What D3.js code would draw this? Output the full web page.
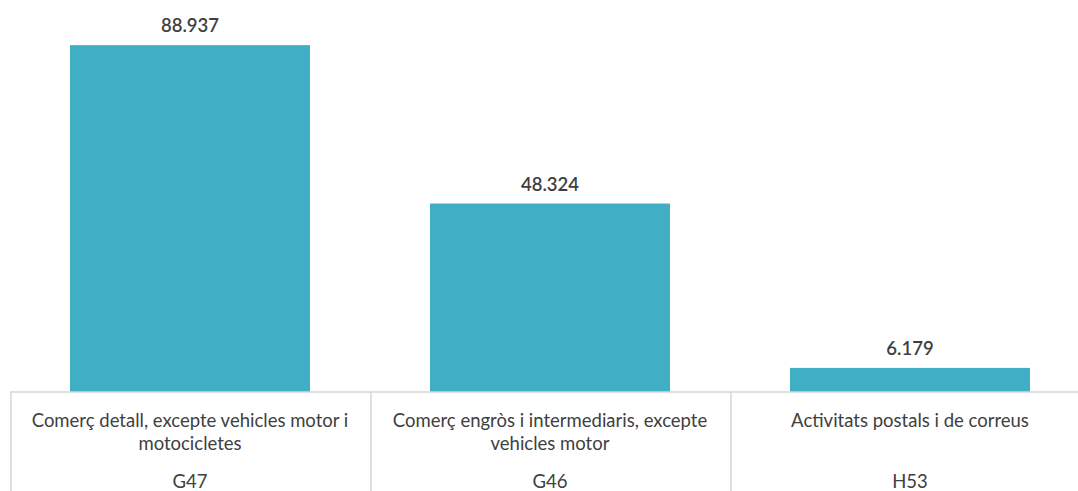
<!DOCTYPE html>
<html><head><meta charset="utf-8">
<script src="https://cdn.jsdelivr.net/npm/d3@7"></script>
<style>body{margin:0;background:#fff}svg{display:block}</style>
</head><body><svg id="c" width="1078" height="491"></svg>
<script>
const categories = ["Comerç detall, excepte vehicles motor i motocicletes", "Comerç engròs i intermediaris, excepte vehicles motor", "Activitats postals i de correus"];
const codes = ["G47", "G46", "H53"];
const values = [88.937, 48.324, 6.179];
const valueLabels = ["88.937", "48.324", "6.179"];

const svg = d3.select("#c");
const font = "Lato, 'Open Sans', sans-serif";
const x = d3.scaleBand().domain(categories).range([10, 1090]).paddingInner(1/3).paddingOuter(1/6);
const y = d3.scaleLinear().domain([0, 100]).range([392, 2]);
const step = x.step();

svg.selectAll("rect.bar").data(categories).join("rect")
  .attr("class","bar")
  .attr("x", d => x(d)).attr("width", x.bandwidth())
  .attr("y", (d,i) => y(values[i])).attr("height", (d,i) => y(0) - y(values[i]))
  .attr("fill", "#40AEC5");

svg.selectAll("text.val").data(categories).join("text")
  .attr("class","val")
  .attr("x", d => x(d) + x.bandwidth()/2)
  .attr("y", (d,i) => y(values[i]) - 13)
  .attr("text-anchor","middle")
  .attr("font-family", font).attr("font-size", 18.5).attr("font-weight", 600)
  .attr("fill", "#3f3f3f")
  .text((d,i) => valueLabels[i]);

// axis line
svg.append("line").attr("x1", 10).attr("x2", 1078).attr("y1", y(0)).attr("y2", y(0))
  .attr("stroke", "#d9d4d4").attr("stroke-width", 1.5);
// separators
svg.selectAll("line.sep").data(categories).join("line")
  .attr("class","sep")
  .attr("x1", d => x(d) - step*x.paddingInner()/2 + 1)
  .attr("x2", d => x(d) - step*x.paddingInner()/2 + 1)
  .attr("y1", y(0)).attr("y2", 491)
  .attr("stroke", "#d9d4d4").attr("stroke-width", 1.5);

function wrap(textSel, width) {
  textSel.each(function() {
    const t = d3.select(this);
    const words = t.text().split(/\s+/);
    const cx = t.attr("x"), y0 = +t.attr("y");
    t.text(null);
    let line = [], ln = 0;
    let tspan = t.append("tspan").attr("x", cx).attr("y", y0);
    for (const w of words) {
      line.push(w);
      tspan.text(line.join(" "));
      if (tspan.node().getComputedTextLength() > width && line.length > 1) {
        line.pop();
        tspan.text(line.join(" "));
        line = [w];
        ln++;
        tspan = t.append("tspan").attr("x", cx).attr("y", y0 + ln*23).text(w);
      }
    }
  });
}

svg.selectAll("text.cat").data(categories).join("text")
  .attr("class","cat")
  .attr("x", d => x(d) + x.bandwidth()/2)
  .attr("y", 427)
  .attr("text-anchor","middle")
  .attr("font-family", font).attr("font-size", 18.5).attr("fill", "#404040")
  .text(d => d)
  .call(wrap, 345);

svg.selectAll("text.code").data(categories).join("text")
  .attr("class","code")
  .attr("x", d => x(d) + x.bandwidth()/2)
  .attr("y", 488)
  .attr("text-anchor","middle")
  .attr("font-family", font).attr("font-size", 18.5).attr("fill", "#404040")
  .text((d,i) => codes[i]);
</script></body></html>
